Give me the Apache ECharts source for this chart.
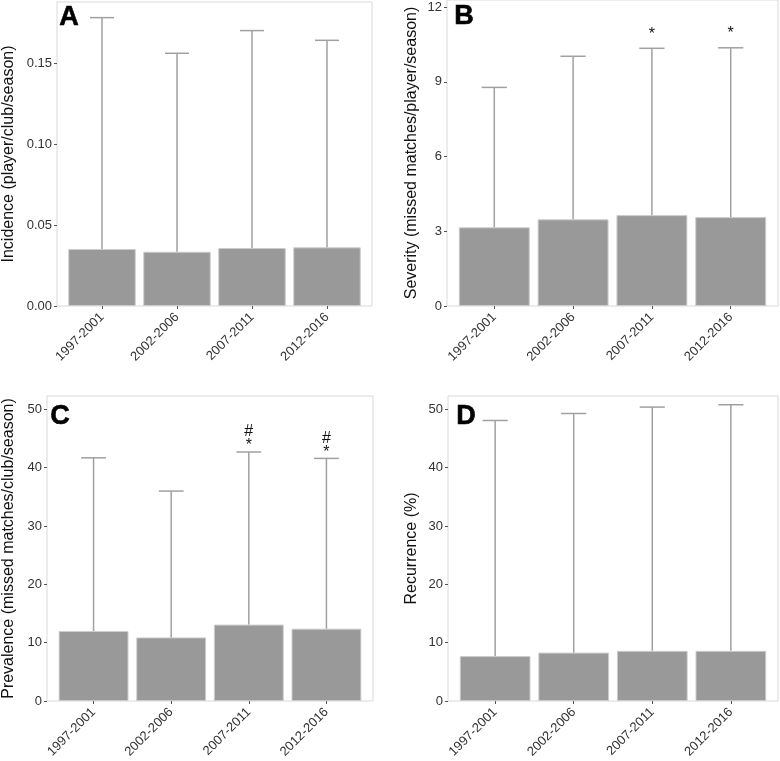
<!DOCTYPE html>
<html>
<head>
<meta charset="utf-8">
<script src="https://cdn.jsdelivr.net/npm/echarts@6/dist/echarts.min.js"></script>
<style>
  html, body { margin: 0; padding: 0; background: #ffffff; }
  #chart { width: 780px; height: 761px; }
</style>
</head>
<body>
<div id="chart"></div>
<script>
// ---------- data ----------
const categories = ['1997-2001', '2002-2006', '2007-2011', '2012-2016'];

const incidenceMean  = [0.0352, 0.0335, 0.0358, 0.0362];
const incidenceUpper = [0.178, 0.156, 0.170, 0.164];
const incidenceMarks = ['', '', '', ''];
const incidenceTicks = [0, 0.05, 0.10, 0.15];

const severityMean  = [3.16, 3.48, 3.65, 3.57];
const severityUpper = [8.78, 10.03, 10.35, 10.37];
const severityMarks = ['', '', '*', '*'];
const severityTicks = [0, 3, 6, 9, 12];

const prevalenceMean  = [12.0, 10.9, 13.1, 12.4];
const prevalenceUpper = [41.7, 36.0, 42.7, 41.6];
const prevalenceMarks = ['', '', '#\n*', '#\n*'];
const prevalenceTicks = [0, 10, 20, 30, 40, 50];

const recurrenceMean  = [7.7, 8.3, 8.6, 8.6];
const recurrenceUpper = [48.1, 49.3, 50.4, 50.8];
const recurrenceMarks = ['', '', '', ''];
const recurrenceTicks = [0, 10, 20, 30, 40, 50];

const panelLetters = ['A', 'B', 'C', 'D'];
const axisTitles = [
  'Incidence (player/club/season)',
  'Severity (missed matches/player/season)',
  'Prevalence (missed matches/club/season)',
  'Recurrence (%)'
];

// ---------- layout / style ----------
const FONT = "'Liberation Sans', Arial, Helvetica, sans-serif";
const panels = [
  { grid: { left: 54, top: 2, width: 318, height: 304 }, max: 0.18765, digits: 2, nameGap: 40,
    mean: incidenceMean, upper: incidenceUpper, marks: incidenceMarks, ticks: incidenceTicks, markOffset: 7,
    letterPos: [59, 4] },
  { grid: { left: 447, top: 0, width: 331, height: 306 }, max: 12.29, digits: 0, nameGap: 27,
    mean: severityMean, upper: severityUpper, marks: severityMarks, ticks: severityTicks, markOffset: 7,
    letterPos: [454, 3] },
  { grid: { left: 43, top: 396, width: 330, height: 305 }, max: 52.3, digits: 0, nameGap: 30,
    mean: prevalenceMean, upper: prevalenceUpper, marks: prevalenceMarks, ticks: prevalenceTicks, markOffset: -1,
    letterPos: [50, 403] },
  { grid: { left: 448, top: 396, width: 330, height: 305 }, max: 52.3, digits: 0, nameGap: 28,
    mean: recurrenceMean, upper: recurrenceUpper, marks: recurrenceMarks, ticks: recurrenceTicks, markOffset: -1,
    letterPos: [456, 403] }
];

const grids = [], xAxes = [], yAxes = [], series = [], graphics = [];
const catPositions = categories.map((c, i) => i + 1);

panels.forEach((p, k) => {
  grids.push(Object.assign({ show: true, borderColor: '#d9d9d9', borderWidth: 1, backgroundColor: 'transparent' }, p.grid));
  xAxes.push({
    type: 'value', gridIndex: k, min: 0.4, max: 4.6,
    axisLine: { show: false },
    splitLine: { show: false },
    axisTick: { show: true, length: 3, lineStyle: { color: '#555' }, customValues: catPositions },
    axisLabel: {
      customValues: catPositions, rotate: 45, margin: 9,
      fontFamily: FONT, fontSize: 13, color: '#333',
      formatter: v => categories[Math.round(v) - 1] || ''
    }
  });
  yAxes.push({
    type: 'value', gridIndex: k, min: 0, max: p.max,
    name: axisTitles[k], nameLocation: 'middle', nameGap: p.nameGap,
    nameTextStyle: { fontFamily: FONT, fontSize: 16, color: '#111' },
    axisLine: { show: false },
    splitLine: { show: false },
    axisTick: { show: true, length: 3, lineStyle: { color: '#555' }, customValues: p.ticks },
    axisLabel: {
      customValues: p.ticks, margin: 5,
      fontFamily: FONT, fontSize: 13, color: '#333',
      formatter: v => Number(v).toFixed(p.digits)
    }
  });
  series.push({
    type: 'bar', xAxisIndex: k, yAxisIndex: k,
    barWidth: '90%',
    itemStyle: { color: '#999999', borderColor: '#cccccc', borderWidth: 1 },
    data: p.mean.map((v, i) => [i + 1, v]),
    z: 2
  });
  series.push({
    type: 'custom', xAxisIndex: k, yAxisIndex: k,
    encode: { x: 0, y: [1, 2] },
    data: p.mean.map((v, i) => [i + 1, v, p.upper[i]]),
    z: 3,
    renderItem: (params, api) => {
      const i = params.dataIndex;
      const x = api.value(0);
      const p0 = api.coord([x, api.value(1)]);
      const p1 = api.coord([x, api.value(2)]);
      const half = api.size([0.32, 0])[0] / 2;
      const st = { stroke: '#a0a0a0', lineWidth: 1.5 };
      const children = [
        { type: 'line', shape: { x1: p0[0], y1: p0[1], x2: p1[0], y2: p1[1] }, style: st },
        { type: 'line', shape: { x1: p1[0] - half, y1: p1[1], x2: p1[0] + half, y2: p1[1] }, style: st }
      ];
      const mark = p.marks[i];
      if (mark) {
        children.push({
          type: 'text',
          style: {
            text: mark, x: p1[0], y: p1[1] - p.markOffset,
            align: 'center', verticalAlign: 'bottom',
            fontFamily: FONT, fontSize: 16, lineHeight: 14, fill: '#111'
          }
        });
      }
      return { type: 'group', children };
    }
  });
  graphics.push({
    type: 'text', left: p.letterPos[0], top: p.letterPos[1], z: 10,
    style: { text: panelLetters[k], font: 'bold 27px ' + FONT, fill: '#000', stroke: '#000', lineWidth: 0.6 }
  });
});

const chart = echarts.init(document.getElementById('chart'), null, { renderer: 'canvas' });
chart.setOption({
  animation: false,
  backgroundColor: '#ffffff',
  grid: grids,
  xAxis: xAxes,
  yAxis: yAxes,
  series: series,
  graphic: graphics
});
</script>
</body>
</html>
